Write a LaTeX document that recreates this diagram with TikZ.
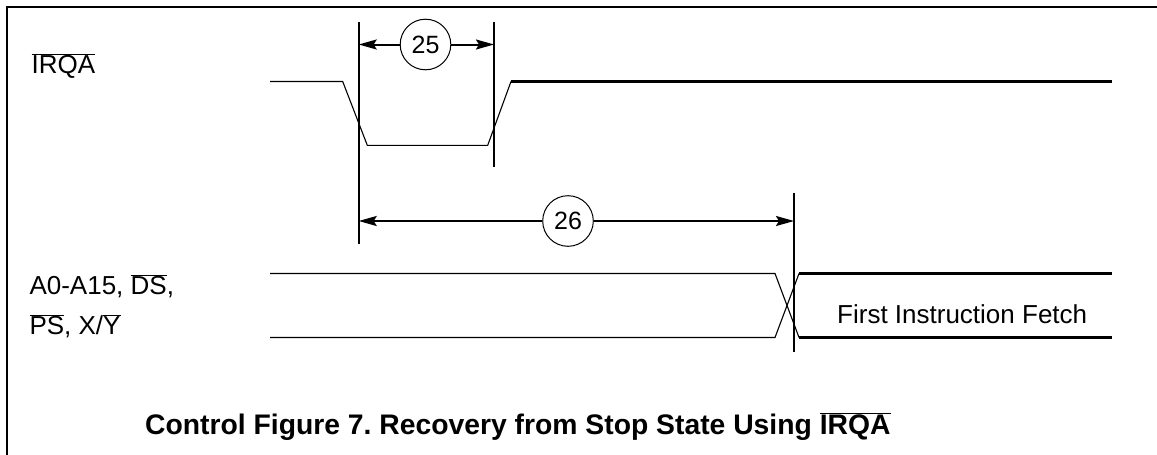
\documentclass[tikz,border=0pt]{standalone}
\usepackage{fontspec}
\setmainfont{Liberation Sans}
\usetikzlibrary{arrows.meta}
\frenchspacing
\newcommand\ovl[1]{$\overline{\hbox{#1}}$}
\tikzset{
  thin sig/.style={line width=1.1pt},
  thick sig/.style={line width=2.2pt},
  mark line/.style={line width=2pt},
  dimarr/.style={line width=2pt,-{Stealth[length=18pt,width=10pt,inset=3pt]}},
  num/.style={circle,draw,line width=1pt,minimum size=50.6pt,inner sep=0pt,font=\fontsize{25}{30}\selectfont},
  lbl/.style={anchor=base west,inner sep=0pt,font=\fontsize{26}{39}\selectfont},
  captext/.style={anchor=base west,inner sep=0pt,font=\fontsize{28.3}{33}\selectfont\bfseries},
}
\begin{document}
\begin{tikzpicture}[x=1pt,y=-1pt]
\useasboundingbox (0,0) rectangle (1157,455);
% frame
\draw[line width=2pt] (1157,6.7) -- (6.5,6.7) -- (6.5,455);
% labels
\node[lbl] (lirq) at (31.5,73.3) {\ovl{IRQA}};
\node[lbl] (lbus1) at (29.3,294.5) {A0-A15, \ovl{DS},};
\node[lbl] (lbus2) at (29.3,334.5) {\ovl{PS}, X/\ovl{Y}};
% IRQA waveform
\draw[thin sig] (270,81.5) -- (342.7,81.5) -- (367.3,145.3) -- (487.7,145.3) -- (511,81.5);
\draw[thick sig] (510.5,81.5) -- (1112,81.5);
% vertical markers
\coordinate (v1t) at (358.7,22); \coordinate (v1b) at (358.7,244);
\coordinate (v2t) at (494,22); \coordinate (v2b) at (494,167.3);
\coordinate (v3t) at (794,192.7); \coordinate (v3b) at (794,351.7);
\draw[mark line] (v1t) -- (v1b);
\draw[mark line] (v2t) -- (v2b);
\draw[mark line] (v3t) -- (v3b);
% dimension 25
\node[num] (c25) at (425.5,44.5) {25};
\coordinate (a25l) at (358.7,44.5); \coordinate (a25r) at (494,44.5);
\draw[dimarr] (c25.west) -- (a25l);
\draw[dimarr] (c25.east) -- (a25r);
% dimension 26
\node[num] (c26) at (568,221) {26};
\coordinate (a26l) at (358.7,221); \coordinate (a26r) at (794,221);
\draw[dimarr] (c26.west) -- (a26l);
\draw[dimarr] (c26.east) -- (a26r);
% bus waveform
\draw[thin sig] (270,273.5) -- (775,273.5) -- (799,337.5);
\draw[thin sig] (270,337.5) -- (775,337.5) -- (799,273.5);
\draw[thick sig] (798.5,273.5) -- (1112,273.5);
\draw[thick sig] (798.5,337.5) -- (1112,337.5);
\node[lbl] (fif) at (837,323.5) {First Instruction Fetch};
% caption
\node[captext] (capt) at (145,434.5) {Control Figure 7. Recovery from Stop State Using \ovl{IRQA}};
\end{tikzpicture}
\end{document}
